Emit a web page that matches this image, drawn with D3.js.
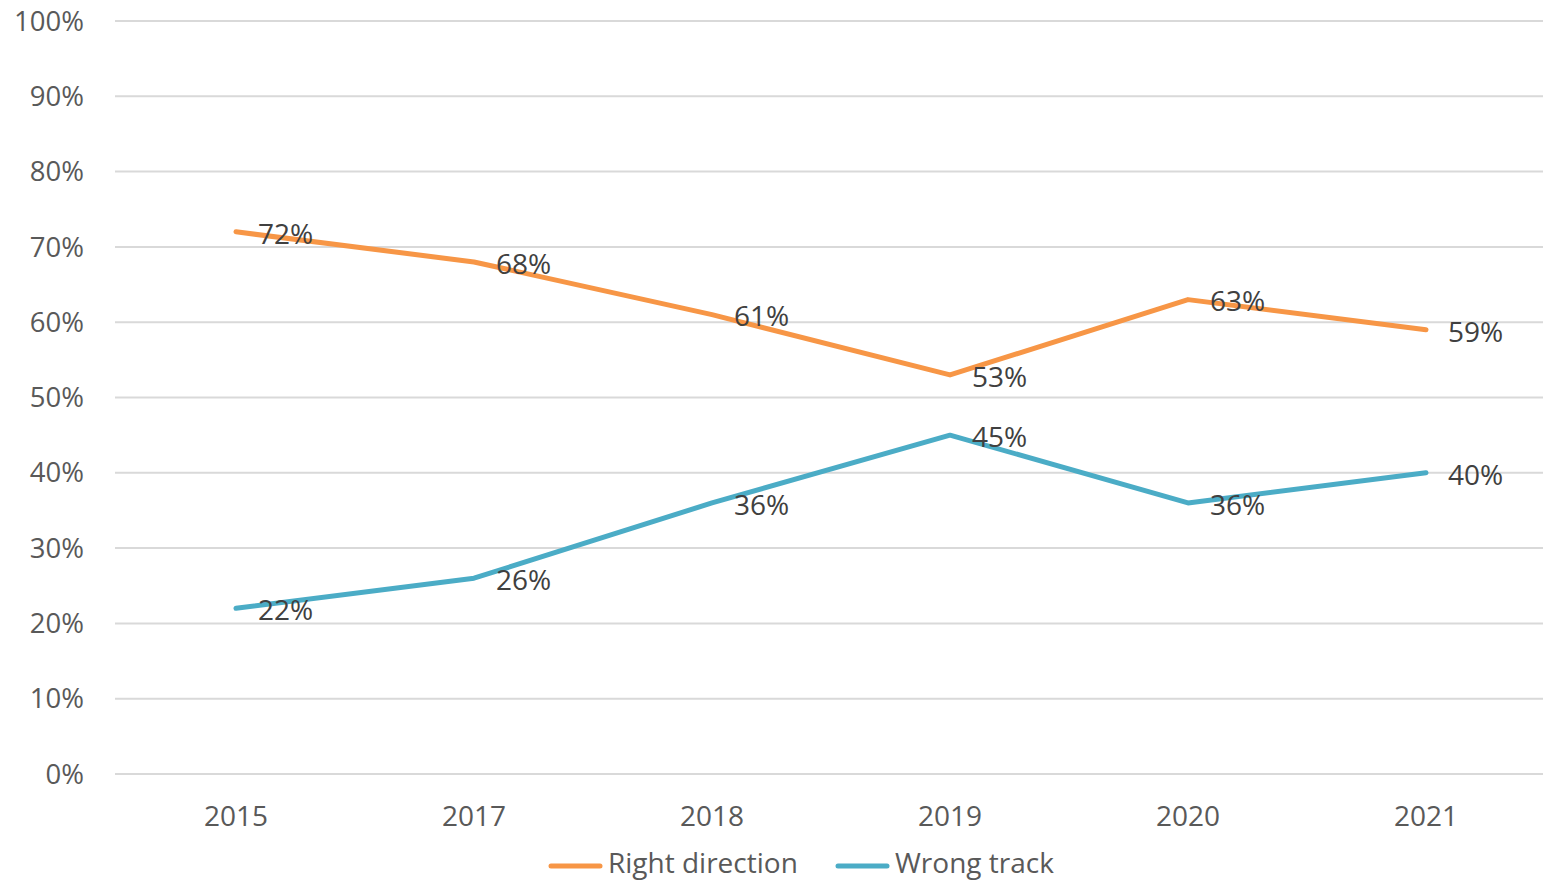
<!DOCTYPE html>
<html><head><meta charset="utf-8">
<script src="https://cdn.jsdelivr.net/npm/d3@7"></script>
<style>body{margin:0;background:#fff}svg{display:block}text{font-family:"Open Sans","Noto Sans",sans-serif}</style>
</head><body><svg id="c" width="1543" height="882"></svg>
<script>
const years = ["2015","2017","2018","2019","2020","2021"];
const rightDirection = [72,68,61,53,63,59];
const wrongTrack = [22,26,36,45,36,40];
const yTicks = [0,10,20,30,40,50,60,70,80,90,100];
const seriesNames = ["Right direction","Wrong track"];
const colors = ["#F79646","#4BACC6"];

const svg = d3.select("#c");
const x = d3.scaleBand().domain(years).range([117,1545]);
const y = d3.scaleLinear().domain([0,100]).range([774,21]);

svg.append("g").selectAll("line").data(yTicks).join("line")
  .attr("x1",115).attr("x2",1543).attr("y1",d=>y(d)).attr("y2",d=>y(d))
  .attr("stroke","#d9d9d9").attr("stroke-width",2);

svg.append("g").selectAll("text").data(yTicks).join("text")
  .attr("x",84).attr("y",d=>y(d)).attr("dy","0.35em").attr("text-anchor","end")
  .attr("font-size",27.5).attr("fill","#595959").text(d=>d+"%");

svg.append("g").selectAll("text").data(years).join("text")
  .attr("x",d=>x(d)+x.bandwidth()/2).attr("y",816).attr("dy","0.35em").attr("text-anchor","middle")
  .attr("font-size",28).attr("fill","#595959").text(d=>d);

const series = [rightDirection, wrongTrack];
const cx = d=>x(d)+x.bandwidth()/2;
series.forEach((vals,i)=>{
  const line = d3.line().x((v,j)=>cx(years[j])).y(v=>y(v));
  svg.append("path").datum(vals).attr("d",line).attr("fill","none")
    .attr("stroke",colors[i]).attr("stroke-width",5).attr("stroke-linecap","round").attr("stroke-linejoin","round");
});
series.forEach((vals,i)=>{
  svg.append("g").selectAll("text").data(vals).join("text")
    .attr("x",(v,j)=>cx(years[j])+22).attr("y",v=>y(v)+2).attr("dy","0.35em")
    .attr("font-size",28).attr("fill","#404040").text(v=>v+"%");
});

const legX = [549,836];
seriesNames.forEach((n,i)=>{
  svg.append("line").attr("x1",legX[i]+2).attr("x2",legX[i]+51).attr("y1",866).attr("y2",866)
    .attr("stroke",colors[i]).attr("stroke-width",5).attr("stroke-linecap","round");
  svg.append("text").attr("x",legX[i]+59).attr("y",863).attr("dy","0.35em")
    .attr("font-size",28).attr("fill","#595959").text(n);
});
</script></body></html>
